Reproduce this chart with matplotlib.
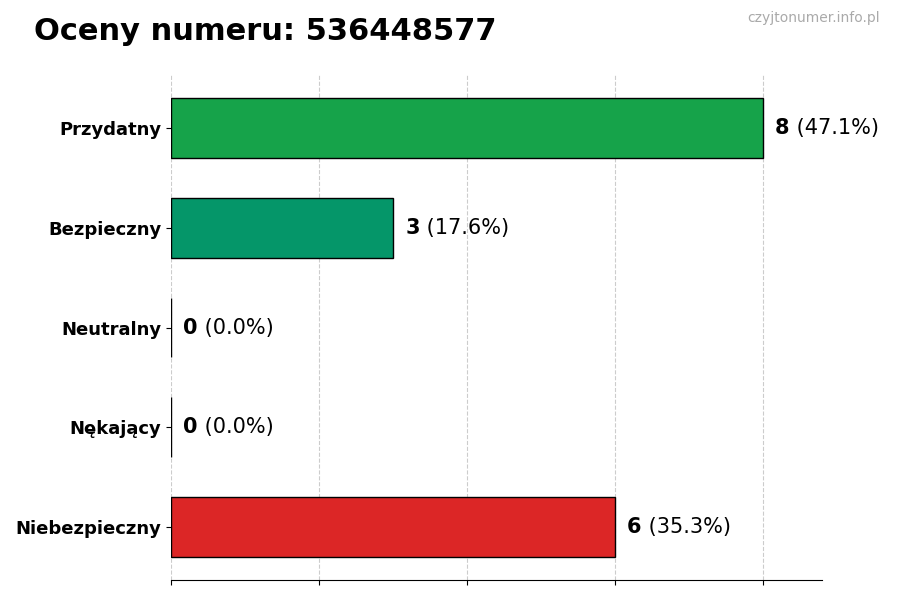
import matplotlib
matplotlib.use("Agg")
import matplotlib.pyplot as plt
from matplotlib.transforms import offset_copy

categories = ["Przydatny", "Bezpieczny", "Neutralny", "Nękający", "Niebezpieczny"]
counts = [8, 3, 0, 0, 6]
percents = ["47.1%", "17.6%", "0.0%", "0.0%", "35.3%"]
colors = ["#16a34a", "#059669", "#6b7280", "#f97316", "#dc2626"]

fig = plt.figure(figsize=(9, 6), dpi=100)
ax = fig.add_axes([0.19, 0.0333, 0.723, 0.8417])
y = list(range(len(categories)))[::-1]
ax.barh(y, counts, height=0.6, color=colors, edgecolor="black", linewidth=1, zorder=2)
ax.set_xlim(0, 8.8)
ax.set_ylim(-0.53, 4.53)
ax.set_yticks(y)
ax.set_yticklabels(categories, fontsize=13, fontweight="bold")
ax.set_xticks([0, 2, 4, 6, 8])
ax.set_xticklabels([])
ax.grid(axis="x", linestyle="--", color="#cccccc", linewidth=0.8, zorder=0)
for s in ["top", "right", "left"]:
    ax.spines[s].set_visible(False)

fig.canvas.draw()
r = fig.canvas.get_renderer()
for yi, c, p in zip(y, counts, percents):
    t = ax.text(c, yi, str(c), fontsize=15, fontweight="bold", va="center", ha="left",
                transform=offset_copy(ax.transData, fig=fig, x=9, y=0, units="points"))
    w = t.get_window_extent(r).width * 72 / fig.dpi
    ax.text(c, yi, " (" + p + ")", fontsize=15, va="center", ha="left",
            transform=offset_copy(ax.transData, fig=fig, x=9 + w, y=0, units="points"))

fig.text(0.038, 0.948, "Oceny numeru: 536448577", fontsize=22, fontweight="bold", va="center")
fig.text(0.978, 0.97, "czyjtonumer.info.pl", fontsize=10, color="#aaaaaa", ha="right", va="center")
fig.savefig("out.png", dpi=100)
